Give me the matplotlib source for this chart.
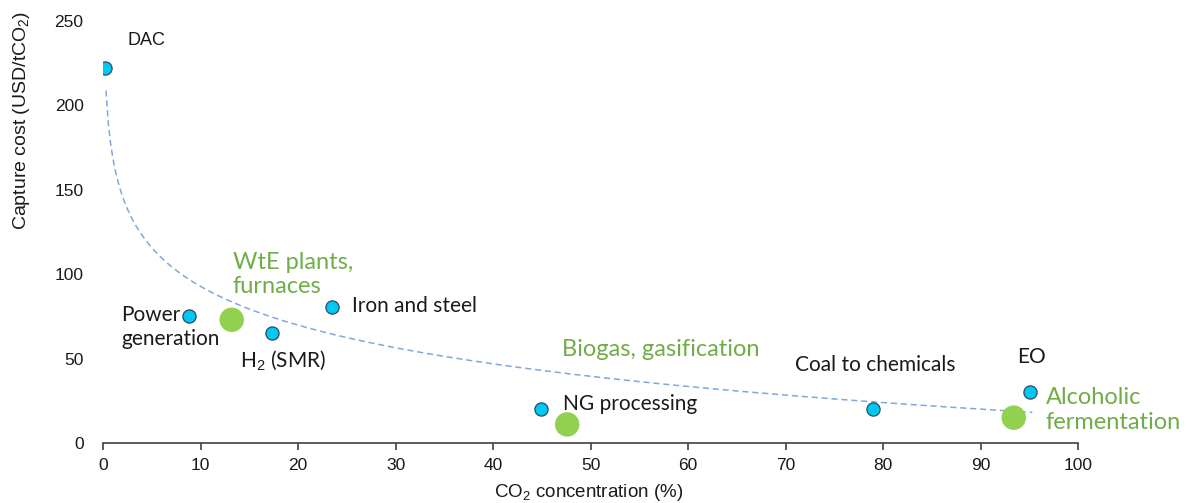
import numpy as np
import matplotlib
matplotlib.use("Agg")
import matplotlib.pyplot as plt

plt.rcParams['mathtext.fontset'] = 'custom'
plt.rcParams['mathtext.rm'] = 'Liberation Sans'
plt.rcParams['mathtext.it'] = 'Liberation Sans'

# CO2 concentration (%) and capture cost (USD/tCO2)
src_names = ['DAC', 'Power generation', 'H2 (SMR)', 'Iron and steel',
             'NG processing', 'Coal to chemicals', 'EO']
src_x = [0.25, 8.8, 17.3, 23.5, 44.9, 79.0, 95.1]
src_y = [222, 75, 65, 80.5, 20, 20, 30]

bio_names = ['WtE plants, furnaces', 'Biogas, gasification', 'Alcoholic fermentation']
bio_x = [13.2, 47.6, 93.4]
bio_y = [73, 11, 15]

# logarithmic trendline as shown (y = a + b*ln x)
trend_a = 169.0
trend_b = -33.1
trend_range = (0.3, 95.3)

blue = '#00c8f0'
green = '#92d050'
green_txt = '#70ad47'

fig = plt.figure(figsize=(11.91, 5.03), dpi=100)
ax = fig.add_axes([0.0865, 0.1193, 0.8187, 0.8389])

xs = np.linspace(trend_range[0], trend_range[1], 400)
ax.plot(xs, trend_a + trend_b * np.log(xs), color='#7fa7e0', lw=1.1,
        ls=(0, (4, 2.5)), zorder=1)

ax.scatter(src_x, src_y, s=90, color=blue, edgecolor='#2a4a6a', linewidth=0.9, zorder=3)
ax.scatter(bio_x, bio_y, s=310, color=green, edgecolor='none', zorder=3)

ax.set_xlim(0, 100)
ax.set_ylim(0, 250)
ax.set_xticks(range(0, 101, 10))
ax.set_yticks(range(0, 251, 50))
for s in ['top', 'right', 'left']:
    ax.spines[s].set_visible(False)
ax.spines['bottom'].set_color('#404040')
ax.spines['bottom'].set_linewidth(1.2)
ax.tick_params(axis='x', direction='out', length=5, width=1.2, color='#404040',
               labelsize=12.5, pad=6, labelcolor='#1a1a1a')
ax.tick_params(axis='y', length=0, labelsize=12.5, pad=14, labelcolor='#1a1a1a')
for lab in ax.get_xticklabels() + ax.get_yticklabels():
    lab.set_family('Liberation Sans')

fig.text(0.494, 0.02, 'CO$_2$ concentration (%)', ha='center', va='center',
         fontsize=13.5, family='Liberation Sans', color='#1a1a1a')
fig.text(0.018, 0.761, 'Capture cost (USD/tCO$_2$)', ha='center', va='center',
         rotation=90, fontsize=14, family='Liberation Sans', color='#1a1a1a')

kw = dict(family='Lato', fontsize=15, color='#1a1a1a', va='center', ha='left')
ax.text(2.56, 238.5, 'DAC', family='Liberation Sans', fontsize=13,
        color='#1a1a1a', va='center')
ax.text(1.85, 69, 'Power\ngeneration', linespacing=1.25, **kw)
ax.text(14.0, 49, 'H$_2$ (SMR)', **kw)
ax.text(25.5, 81, 'Iron and steel', **kw)
ax.text(47.2, 23, 'NG processing', **kw)
ax.text(71.0, 46, 'Coal to chemicals', **kw)
ax.text(93.7, 51, 'EO', **kw)

gkw = dict(family='Lato', fontsize=17, color=green_txt, va='center', ha='left')
ax.text(13.3, 100, 'WtE plants,\nfurnaces', linespacing=1.2, **gkw)
ax.text(47.1, 55.5, 'Biogas, gasification', **gkw)
ax.text(96.7, 19.5, 'Alcoholic\nfermentation', linespacing=1.2, **gkw)

fig.savefig('out.png', dpi=100)
